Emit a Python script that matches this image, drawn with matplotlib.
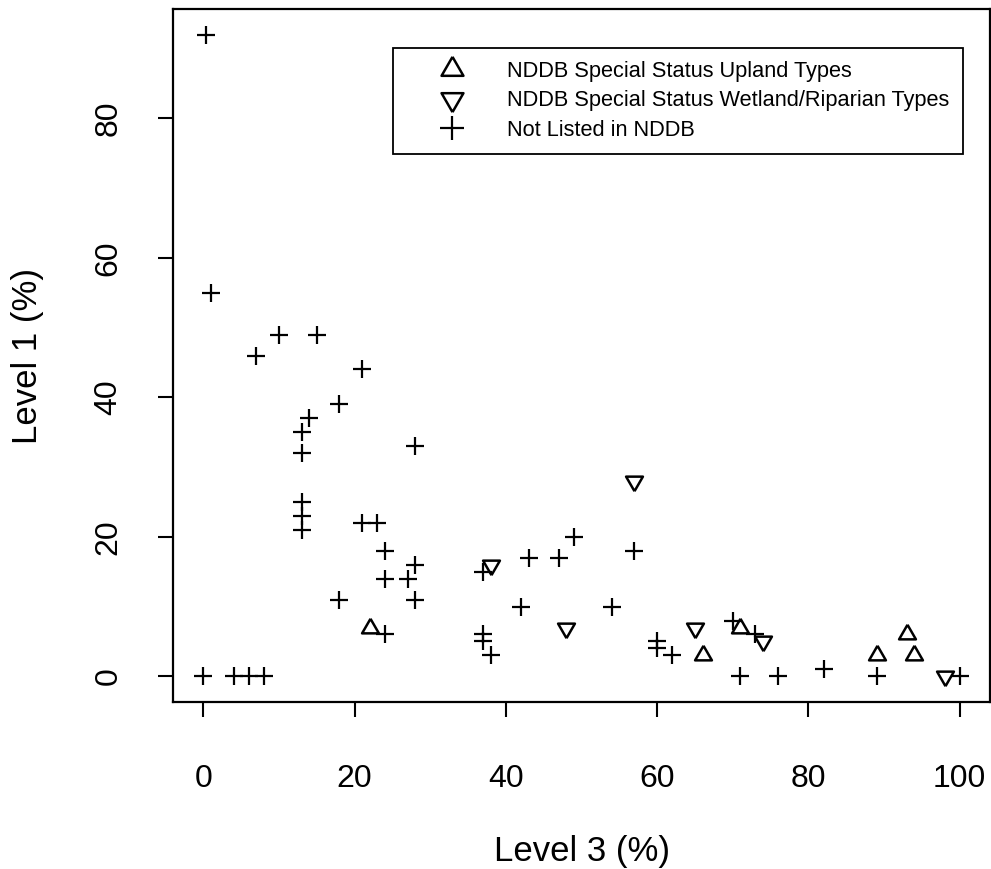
import matplotlib
matplotlib.use("Agg")
import matplotlib.pyplot as plt
import numpy as np

# Level 3 (%) vs Level 1 (%) per vegetation type
upland_x = [22, 66, 71, 89, 93, 94]
upland_y = [7, 3, 7, 3, 6, 3]

wetland_x = [38, 48, 57, 65, 74, 98]
wetland_y = [16, 7, 28, 7, 5, 0]

other_x = [0.4, 1, 7, 10, 15, 21, 18, 14, 13, 13, 28, 13, 13, 13, 21, 23, 24, 28,
           24, 27, 18, 28, 24, 37, 43, 47, 49, 42, 37, 37, 38, 54, 57, 60, 60, 62,
           70, 71, 73, 76, 82, 89, 100, 0, 4, 6, 8]
other_y = [92, 55, 46, 49, 49, 44, 39, 37, 35, 32, 33, 25, 23, 21, 22, 22, 18, 16,
           14, 14, 11, 11, 6, 15, 17, 17, 20, 10, 6, 5, 3, 10, 18, 5, 4, 3,
           8, 0, 6, 0, 1, 0, 0, 0, 0, 0, 0]

labels = ["NDDB Special Status Upland Types",
          "NDDB Special Status Wetland/Riparian Types",
          "Not Listed in NDDB"]

ticks_x = [0, 20, 40, 60, 80, 100]
ticks_y = [0, 20, 40, 60, 80]

font = ["Liberation Sans", "DejaVu Sans"]

# equilateral triangles centred on their centroid
tri_up = [(0, 1), (-0.866, -0.5), (0.866, -0.5), (0, 1)]
tri_down = [(0, -1), (-0.866, 0.5), (0.866, 0.5), (0, -1)]

fig = plt.figure(figsize=(9.91, 8.69), dpi=100)
ax = fig.add_axes([173 / 991, 1 - 702 / 869, 817 / 991, 693 / 869])

ax.plot(upland_x, upland_y, linestyle="none", marker=tri_up, markersize=14,
        markerfacecolor="none", markeredgecolor="black", markeredgewidth=1.8,
        label=labels[0])
ax.plot(wetland_x, wetland_y, linestyle="none", marker=tri_down, markersize=14,
        markerfacecolor="none", markeredgecolor="black", markeredgewidth=1.8,
        label=labels[1])
ax.plot(other_x, other_y, linestyle="none", marker="+", markersize=13.5,
        markeredgecolor="black", markeredgewidth=1.6, label=labels[2])

# R-style 4% padding around the data range
ax.set_xlim(-4, 104)
ax.set_ylim(-3.68, 95.68)
ax.set_xticks(ticks_x)
ax.set_yticks(ticks_y)
ax.set_xticklabels([str(t) for t in ticks_x], family=font, fontsize=23)
ax.set_yticklabels([str(t) for t in ticks_y], family=font, fontsize=23,
                   rotation=90, va="center")
ax.tick_params(direction="out", length=10.5, width=1.5, color="black")
ax.tick_params(axis="x", pad=34)
ax.tick_params(axis="y", pad=25)
for sp in ax.spines.values():
    sp.set_linewidth(1.6)
    sp.set_color("black")

ax.set_xlabel("Level 3 (%)", family=font, fontsize=25)
ax.set_ylabel("Level 1 (%)", family=font, fontsize=25)
ax.xaxis.set_label_coords(0.5, -150 / 693)
ax.xaxis.label.set_va("center")
ax.yaxis.set_label_coords(-145 / 817, 0.5)
ax.yaxis.label.set_va("center")

leg = ax.legend(loc="upper left", bbox_to_anchor=(393 / 991, 1 - 48 / 869),
                bbox_transform=fig.transFigure, prop={"family": font, "size": 15.7},
                frameon=True, fancybox=False, framealpha=1, edgecolor="black",
                borderpad=0.6, handlelength=4.2, handletextpad=0.45,
                labelspacing=0.38, markerscale=1.3, borderaxespad=0)
leg.get_frame().set_linewidth(1.3)

fig.savefig("out.png", dpi=100)
